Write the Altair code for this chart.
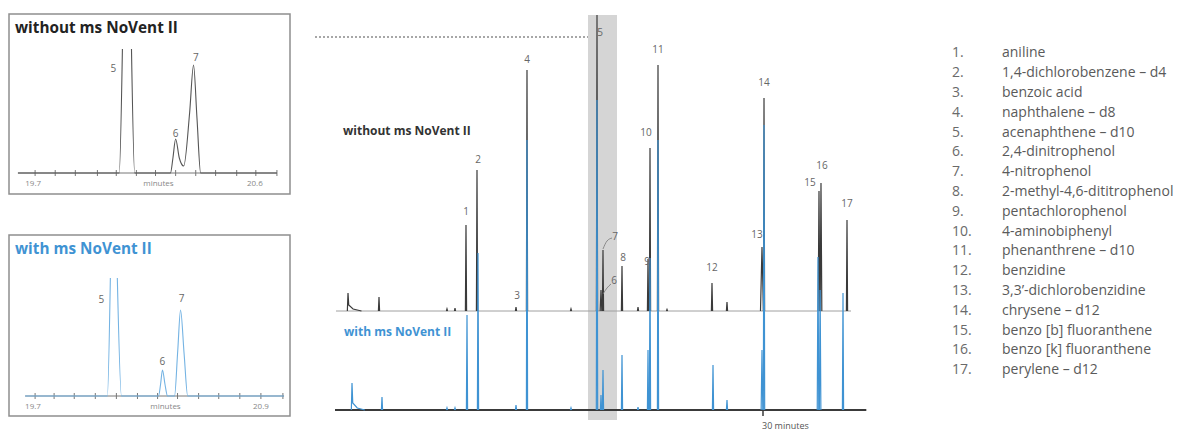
import altair as alt
import pandas as pd

FONT = "Open Sans"

# ---------------- data ----------------
# compound list
compound_no = [f"{i}." for i in range(1, 18)]
compound_names = [
    "aniline", "1,4-dichlorobenzene – d4", "benzoic acid", "naphthalene – d8",
    "acenaphthene – d10", "2,4-dinitrophenol", "4-nitrophenol",
    "2-methyl-4,6-dititrophenol", "pentachlorophenol", "4-aminobiphenyl",
    "phenanthrene – d10", "benzidine", "3,3’-dichlorobenzidine", "chrysene – d12",
    "benzo [b] fluoranthene", "benzo [k] fluoranthene", "perylene – d12",
]

# main chromatogram: retention time (min), peak height, half width (min)
upper_rt = [5.298, 7.143, 11.190, 11.667, 12.321, 12.976, 15.298, 15.952, 18.571, 20.119,
            20.357, 20.476, 21.607, 22.560, 23.155, 23.274, 23.750, 24.286, 26.964, 27.857,
            29.940, 30.060, 33.333, 33.452, 35.000]
upper_h = [18, 14, 2, 3, 86, 141, 4, 241, 2, 296,
           21, 61, 45, 4, 52, 163, 246, 1.5, 28, 9,
           64, 213, 120, 128, 91]
upper_w = [0.04, 0.035, 0.035, 0.035, 0.035, 0.035, 0.035, 0.035, 0.035, 0.035,
           0.05, 0.035, 0.035, 0.035, 0.035, 0.035, 0.035, 0.035, 0.035, 0.035,
           0.09, 0.035, 0.05, 0.05, 0.035]
upper_tail = {0: [(5.34, 6), (5.6, 2), (6.1, 0)]}

lower_rt = [5.536, 7.321, 11.190, 11.667, 12.381, 13.036, 15.298, 15.952, 18.571, 20.119,
            20.357, 20.476, 21.607, 22.560, 23.155, 23.274, 23.750, 27.024, 27.857, 29.940,
            30.060, 33.274, 33.400, 34.762]
lower_h = [27, 13, 2, 2, 95, 157, 5, 270, 2, 310,
           15, 40, 55, 3, 60, 152, 270, 45, 10, 60,
           285, 153, 120, 117]
lower_w = [0.04, 0.035, 0.035, 0.035, 0.035, 0.035, 0.035, 0.035, 0.035, 0.04,
           0.035, 0.035, 0.035, 0.035, 0.035, 0.035, 0.035, 0.035, 0.035, 0.05,
           0.04, 0.045, 0.045, 0.035]
lower_tail = {0: [(5.58, 7), (5.85, 2), (6.3, 0)]}

UPPER_BASE = 99

peak_labels = ["1", "2", "3", "4", "5", "6", "7", "8", "9", "10", "11", "12", "13", "14", "15", "16", "17"]
peak_label_x = [12.321, 13.036, 15.357, 15.952, 20.298, 21.131, 21.190, 21.667, 23.095, 23.036,
                23.750, 26.964, 29.643, 30.060, 32.798, 33.512, 35.000]
peak_label_y = [198, 250, 114, 350, 377, 129, 173, 152, 148, 277, 360, 142, 175, 327, 227, 244, 206]

# leader lines for peaks 6 and 7
leader_x = [20.476, 20.714, 21.012, 20.476, 20.714, 20.952]
leader_y = [161, 169, 172, 116, 122, 126]
leader_id = ["7", "7", "7", "6", "6", "6"]

# inset "without"
top_x = [19.630, 20.043, 20.056, 20.093, 20.106, 20.252, 20.262, 20.273, 20.288, 20.306,
         20.330, 20.346, 20.360, 20.375, 20.686]
top_y = [0, 0, 124, 124, 0, 0, 15, 34, 15, 7, 60, 108, 55, 0, 0]
top_seg = [0, 0, 0, 1, 1, 1, 1, 1, 1, 1, 1, 1, 1, 1, 1]
top_ticks = [19.700, 19.782, 19.864, 19.954, 20.031, 20.113, 20.191, 20.273, 20.355, 20.436,
             20.522, 20.600, 20.686]
top_lab = ["5", "6", "7"]
top_lab_x = [20.019, 20.273, 20.355]
top_lab_y = [104, 39, 115]
top_axis_text = ["19.7", "minutes", "20.6"]
top_axis_x = [19.692, 20.203, 20.596]

# inset "with"
bot_x = [19.647, 20.084, 20.100, 20.137, 20.159, 20.356, 20.367, 20.377, 20.390, 20.404,
         20.441, 20.458, 20.473, 20.492, 20.511, 21.023]
bot_y = [0, 0, 118, 118, 0, 0, 12, 26, 12, 0, 0, 45, 86, 42, 0, 0]
bot_seg = [0, 0, 0, 1, 1, 1, 1, 1, 1, 1, 1, 1, 1, 1, 1, 1]
bot_ticks = [19.700, 19.801, 19.908, 20.020, 20.132, 20.244, 20.351, 20.457, 20.569, 20.676,
             20.788, 20.900, 21.017]
bot_lab = ["5", "6", "7"]
bot_lab_x = [20.052, 20.377, 20.479]
bot_lab_y = [96, 34, 97]
bot_axis_text = ["19.7", "minutes", "20.9"]
bot_axis_x = [19.689, 20.393, 20.900]

BLUE = "#3f93d3"
DARK = "#3a3a3a"
GREY_TXT = "#666666"


def sx(dom, **kw):
    return alt.Scale(domain=dom, nice=False, zero=False, **kw)


def inset(tx, ty, tseg, ticks, labs, lab_x, lab_y, ax_text, ax_x, xdom, ydom,
          title, title_color, line_color, h):
    xs = sx(xdom)
    ys = sx(ydom)
    X = lambda f: alt.X(f, type="quantitative", scale=xs, axis=None)
    Y = lambda f: alt.Y(f, type="quantitative", scale=ys, axis=None)
    axis_df = pd.DataFrame({"x0": [min(tx)], "x1": [max(tx)], "y": [0]})
    axis = alt.Chart(axis_df).mark_rule(color="#777777", strokeWidth=1).encode(
        x=X("x0"), x2="x1", y=Y("y"))
    tick_df = pd.DataFrame({"t": ticks, "y0": -3, "y1": 3})
    tk = alt.Chart(tick_df).mark_rule(color="#777777", strokeWidth=1).encode(
        x=X("t"), y=Y("y0"), y2="y1")
    trace_df = pd.DataFrame({"x": tx, "y": ty, "seg": tseg})
    trace = alt.Chart(trace_df).mark_line(color=line_color, strokeWidth=1.1,
                                          interpolate="monotone").encode(
        x=X("x"), y=Y("y"), detail="seg:N")
    lab_df = pd.DataFrame({"x": lab_x, "y": lab_y, "t": labs})
    lab = alt.Chart(lab_df).mark_text(fontSize=10, color=GREY_TXT, baseline="middle",
                                      font=FONT).encode(x=X("x"), y=Y("y"), text="t:N")
    ax_df = pd.DataFrame({"x": ax_x, "y": -11, "t": ax_text})
    axt = alt.Chart(ax_df).mark_text(fontSize=8, color="#888888", baseline="middle",
                                     font=FONT).encode(x=X("x"), y=Y("y"), text="t:N")
    ttl = alt.Chart(pd.DataFrame({"t": [title]})).mark_text(
        fontSize=15.3, fontWeight="bold", color=title_color, align="left",
        baseline="middle", font=FONT).encode(x=alt.value(6), y=alt.value(14), text="t:N")
    return alt.layer(axis, tk, trace, lab, axt, ttl).properties(
        width=281, height=h,
        view=alt.ViewBackground(stroke="#8f8f8f", strokeWidth=1.5))


def spacer(h):
    return alt.Chart(pd.DataFrame({"a": [0]})).mark_rule(opacity=0, strokeWidth=0).encode(
        x=alt.value(1), x2=alt.value(2), y=alt.value(1)).properties(width=281, height=h)


top_inset = inset(top_x, top_y, top_seg, top_ticks, top_lab, top_lab_x, top_lab_y,
                  top_axis_text, top_axis_x, [19.5936, 20.7393], [-21, 159],
                  "without ms NoVent II", "#222222", "#555555", 180)
bot_inset = inset(bot_x, bot_y, bot_seg, bot_ticks, bot_lab, bot_lab_x, bot_lab_y,
                  bot_axis_text, bot_axis_x, [19.5613, 21.0547], [-20, 161],
                  "with ms NoVent II", BLUE, "#74b3e3", 181)

left_col = alt.vconcat(spacer(5), top_inset, spacer(39), bot_inset, spacing=0)


# ---------------- main chromatogram ----------------
def build_trace(rt, h, w, tails, base):
    rows = []
    for i, (r, hh, ww) in enumerate(zip(rt, h, w)):
        rows.append((r - ww, base, i))
        rows.append((r, base + hh, i))
        if i in tails:
            for tx_, ty_ in tails[i]:
                rows.append((tx_, base + ty_, i))
        else:
            rows.append((r + ww, base, i))
    return pd.DataFrame(rows, columns=["x", "y", "pk"])


XD = [3.3333, 36.1905]
YD = [-20, 402]
mxs = sx(XD)
mys = sx(YD)
MX = lambda f: alt.X(f, type="quantitative", scale=mxs, axis=None)
MY = lambda f: alt.Y(f, type="quantitative", scale=mys, axis=None)

band = alt.Chart(pd.DataFrame({"x0": [19.583], "x1": [21.310], "y0": [-10], "y1": [395]})).mark_rect(
    color="#d5d5d5").encode(x=MX("x0"), x2="x1", y=MY("y0"), y2="y1")
dotted = alt.Chart(pd.DataFrame({"x0": [3.3333], "x1": [19.583], "y": [373]})).mark_rule(
    color="#8a8a8a", strokeWidth=1.3, strokeDash=[2, 2]).encode(x=MX("x0"), x2="x1", y=MY("y"))
upper_base = alt.Chart(pd.DataFrame({"x0": [4.583], "x1": [35.238], "y": [UPPER_BASE]})).mark_rule(
    color="#a0a0a0", strokeWidth=1).encode(x=MX("x0"), x2="x1", y=MY("y"))
lower_axis = alt.Chart(pd.DataFrame({"x0": [4.524], "x1": [36.15], "y": [0]})).mark_rule(
    color=DARK, strokeWidth=2).encode(x=MX("x0"), x2="x1", y=MY("y"))
tick30 = alt.Chart(pd.DataFrame({"x": [30.0], "y0": [0], "y1": [-6]})).mark_rule(
    color=DARK, strokeWidth=1.5).encode(x=MX("x"), y=MY("y0"), y2="y1")
tick30_lab = alt.Chart(pd.DataFrame({"x": [29.94], "y": [-16], "t": ["30 minutes"]})).mark_text(
    fontSize=9, color="#555555", align="left", baseline="middle", font=FONT).encode(
    x=MX("x"), y=MY("y"), text="t:N")

up_df = build_trace(upper_rt, upper_h, upper_w, upper_tail, UPPER_BASE)
lo_df = build_trace(lower_rt, lower_h, lower_w, lower_tail, 0)
up_line = alt.Chart(up_df).mark_line(color=DARK, strokeWidth=1.2).encode(
    x=MX("x"), y=MY("y"), detail="pk:N")
lo_line = alt.Chart(lo_df).mark_line(color=BLUE, strokeWidth=1.2).encode(
    x=MX("x"), y=MY("y"), detail="pk:N")

labels = alt.Chart(pd.DataFrame({"x": peak_label_x, "y": peak_label_y, "t": peak_labels})).mark_text(
    fontSize=10, color=GREY_TXT, baseline="middle", font=FONT).encode(
    x=MX("x"), y=MY("y"), text="t:N")
leaders = alt.Chart(pd.DataFrame({"x": leader_x, "y": leader_y, "id": leader_id})).mark_line(
    color="#777777", strokeWidth=0.8, interpolate="monotone").encode(
    x=MX("x"), y=MY("y"), detail="id:N")

titles = alt.Chart(pd.DataFrame({
    "x": [5.0, 5.06], "y": [279, 78],
    "t": ["without ms NoVent II", "with ms NoVent II"],
    "c": ["without", "with"]})).mark_text(
    fontSize=12, fontWeight="bold", align="left", baseline="middle", font=FONT).encode(
    x=MX("x"), y=MY("y"), text="t:N",
    color=alt.Color("c:N", scale=alt.Scale(domain=["without", "with"], range=["#333333", BLUE]),
                    legend=None))

main = alt.layer(band, dotted, upper_base, up_line, lower_axis, lo_line, tick30, tick30_lab,
                 leaders, labels, titles).properties(width=552, height=422)

# ---------------- compound list ----------------
leg_df = pd.DataFrame({"i": list(range(17)), "no": compound_no, "name": compound_names})
lys = alt.Scale(domain=[-2.288, 19.025], nice=False, zero=False, reverse=True)
leg_no = alt.Chart(leg_df).mark_text(fontSize=14, color="#6a6a6a", align="left",
                                     baseline="middle", font=FONT).encode(
    x=alt.value(61), y=alt.Y("i:Q", scale=lys, axis=None), text="no:N")
leg_name = alt.Chart(leg_df).mark_text(fontSize=14, color="#5a5a5a", align="left",
                                       baseline="middle", font=FONT).encode(
    x=alt.value(111), y=alt.Y("i:Q", scale=lys, axis=None), text="name:N")
legend = alt.layer(leg_no, leg_name).properties(width=280, height=422)

chart = alt.hconcat(left_col, main, legend, spacing=23).properties(padding=0).configure_view(
    stroke=None)

chart.save("out.html", embed_options={"renderer": "svg", "actions": False})
